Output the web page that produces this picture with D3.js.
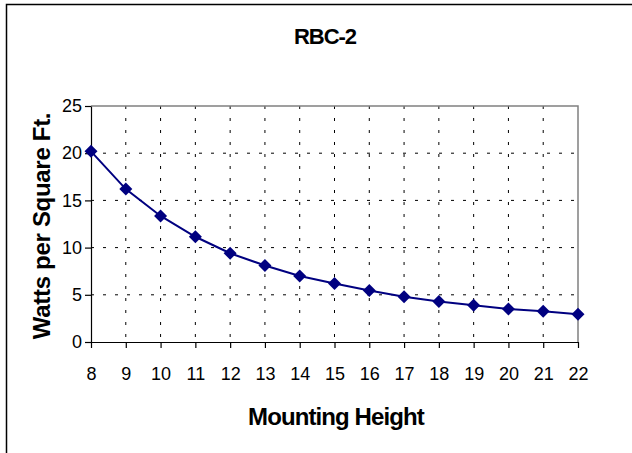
<!DOCTYPE html>
<html>
<head>
<meta charset="utf-8">
<script src="https://cdn.jsdelivr.net/npm/d3@7"></script>
<style>
  body { margin: 0; background: #fff; }
  svg { font-family: "Liberation Sans", Arial, sans-serif; }
  .grid line { stroke: #000; stroke-width: 1; stroke-dasharray: 3, 9; }
  .axis path, .axis line { stroke: #000; stroke-width: 1.2; }
  .axis text { font-size: 18px; fill: #000; }
</style>
</head>
<body>
<svg width="632" height="453"></svg>
<script>
// mounting height (ft) vs watts per square ft.
const heights = [8, 9, 10, 11, 12, 13, 14, 15, 16, 17, 18, 19, 20, 21, 22];
const watts = [20.2, 16.2, 13.35, 11.15, 9.4, 8.1, 7.0, 6.2, 5.45, 4.8, 4.3, 3.9, 3.5, 3.25, 2.95];
const yTicks = [0, 5, 10, 15, 20, 25];

const svg = d3.select("svg");
const plot = { left: 91, right: 578, top: 106, bottom: 342 };

// outer chart frame
svg.append("rect")
  .attr("x", 6.5).attr("y", 4.5)
  .attr("width", 640).attr("height", 460)
  .attr("fill", "none").attr("stroke", "#000").attr("stroke-width", 1.5);

let xScale = d3.scaleLinear().domain([8, 22]).range([plot.left, plot.right]);
let yScale = d3.scaleLinear().domain([0, 25]).range([plot.bottom, plot.top]);

// dashed gridlines
let grid = svg.append("g").attr("class", "grid");
grid.selectAll(".v")
  .data(heights.slice(1, -1))
  .enter().append("line")
  .attr("x1", (d) => xScale(d)).attr("x2", (d) => xScale(d))
  .attr("y1", plot.top).attr("y2", plot.bottom);
grid.selectAll(".h")
  .data(yTicks.slice(1, -1))
  .enter().append("line")
  .attr("y1", (d) => yScale(d)).attr("y2", (d) => yScale(d))
  .attr("x1", plot.left).attr("x2", plot.right);

// plot area border (top + right)
svg.append("path")
  .attr("d", `M${plot.left},${plot.top}H${plot.right}V${plot.bottom}`)
  .attr("fill", "none").attr("stroke", "#808080").attr("stroke-width", 1.5);

let xAxis = svg.append("g")
  .attr("class", "axis")
  .attr("transform", `translate(0,${plot.bottom})`)
  .call(d3.axisBottom(xScale).tickValues(heights).tickFormat(d3.format("d")).tickSize(6).tickSizeOuter(0));
xAxis.selectAll("text").attr("y", 25).attr("dy", "0.71em");

let yAxis = svg.append("g")
  .attr("class", "axis")
  .attr("transform", `translate(${plot.left},0)`)
  .call(d3.axisLeft(yScale).tickValues(yTicks).tickSize(6).tickSizeOuter(0).tickPadding(3));

// series
let line = d3.line()
  .x((d, i) => xScale(heights[i]))
  .y((d) => yScale(d));

svg.append("path")
  .datum(watts)
  .attr("d", line)
  .attr("fill", "none")
  .attr("stroke", "#000080")
  .attr("stroke-width", 2);

svg.selectAll(".pt")
  .data(watts)
  .enter().append("path")
  .attr("class", "pt")
  .attr("transform", (d, i) => `translate(${xScale(heights[i])},${yScale(d)})`)
  .attr("d", "M0,-6.5L6.5,0L0,6.5L-6.5,0Z")
  .attr("fill", "#000080");

// titles
svg.append("text")
  .attr("x", 325).attr("y", 44)
  .attr("text-anchor", "middle")
  .attr("font-size", "22px").attr("font-weight", "bold")
  .attr("letter-spacing", "-1px")
  .text("RBC-2");

svg.append("text")
  .attr("x", 336).attr("y", 425)
  .attr("text-anchor", "middle")
  .attr("font-size", "24px").attr("font-weight", "bold")
  .attr("letter-spacing", "-0.9px")
  .text("Mounting Height");

svg.append("text")
  .attr("transform", "translate(50,226) rotate(-90)")
  .attr("text-anchor", "middle")
  .attr("font-size", "24px").attr("font-weight", "bold")
  .attr("letter-spacing", "-0.3px")
  .text("Watts per Square Ft.");
</script>
</body>
</html>
